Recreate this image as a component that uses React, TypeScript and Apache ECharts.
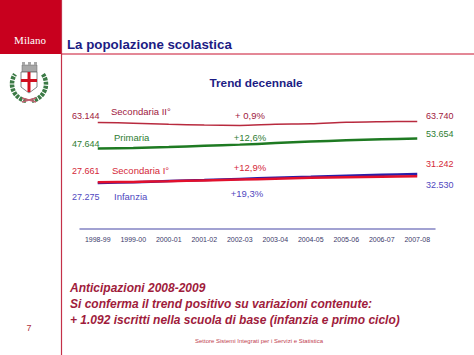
import React, { useEffect, useRef } from "react";
import * as echarts from "echarts";

const categories = ["1998-99", "1999-00", "2000-01", "2001-02", "2002-03", "2003-04", "2004-05", "2005-06", "2006-07", "2007-08"];
const secondariaII = [63144, 62700, 62100, 61600, 61400, 62100, 62300, 63200, 63550, 63740];
const primaria = [47644, 48000, 48600, 49300, 50000, 50900, 51800, 52600, 53200, 53654];
const secondariaI = [27661, 27900, 28300, 28800, 29300, 29800, 30300, 30700, 31000, 31242];
const infanzia = [27275, 27700, 28400, 29000, 29700, 30400, 31000, 31600, 32100, 32530];
const seriesNames = ["Secondaria II°", "Primaria", "Secondaria I°", "Infanzia"];
const percentLabels = ["+ 0,9%", "+12,6%", "+12,9%", "+19,3%"];

const fmt = (v: number) => Math.round(v).toString().replace(/\B(?=(\d{3})+(?!\d))/g, ".");

export default function App() {
  const ref = useRef<HTMLDivElement>(null);
  useEffect(() => {
    if (!ref.current) return;
    const chart = echarts.init(ref.current, null, { renderer: "svg" });
    const navy = "#1c1c84";
    const maroon = "#a01c3c";
    const colSecII = "#b82a3e";
    const colPrim = "#1e7a22";
    const colSecI = "#e2102c";
    const colInf = "#2a1ea8";
    const lblSecII = "#a02040";
    const lblPrim = "#2e7d32";
    const lblSecI = "#d42838";
    const lblInf = "#5048c0";
    const f = "Liberation Sans, Arial, sans-serif";
    const txt = (text: string, x: number, y: number, size: number, fill: string, opts: any = {}) => ({
      type: "text",
      x,
      y,
      style: {
        text,
        fill,
        fontSize: size,
        fontFamily: opts.family || f,
        fontWeight: opts.weight || "normal",
        fontStyle: opts.style || "normal",
        textAlign: opts.align || "left",
        textVerticalAlign: "middle",
      },
    });
    const lineOf = (name: string, data: number[], color: string, width: number, z: number) => ({
      name,
      type: "line",
      data,
      smooth: 0.3,
      symbol: "none",
      z,
      lineStyle: { color, width },
    });
    chart.setOption({
      animation: false,
      grid: { left: 80, width: 355, top: 94, height: 135 },
      xAxis: {
        type: "category",
        data: categories,
        boundaryGap: true,
        axisTick: { show: false },
        axisLine: { lineStyle: { color: "#8484c4", width: 1.5 } },
        axisLabel: { fontSize: 7, color: "#3a3a6a", margin: 7, fontFamily: f, interval: 0 },
      },
      yAxis: { type: "value", min: 0, max: 80000, show: false, splitLine: { show: false } },
      series: [
        lineOf(seriesNames[0], secondariaII, colSecII, 1.5, 2),
        lineOf(seriesNames[1], primaria, colPrim, 2.5, 2),
        lineOf(seriesNames[3], infanzia, colInf, 2.5, 2),
        lineOf(seriesNames[2], secondariaI, colSecI, 2.5, 3),
      ],
      graphic: [
        { type: "rect", shape: { x: 0, y: 0, width: 61, height: 54 }, style: { fill: "#c8001e" } },
        { type: "line", shape: { x1: 61, y1: 54, x2: 474, y2: 54 }, style: { stroke: "#c8102e", lineWidth: 1 } },
        { type: "line", shape: { x1: 61.5, y1: 0, x2: 61.5, y2: 355 }, style: { stroke: "#c43048", lineWidth: 1.2 } },
        txt("Milano", 30, 40, 11, "#ffffff", { align: "center", family: "Liberation Serif, serif" }),
        // coat of arms
        { type: "arc", shape: { cx: 29, cy: 84, r: 17, startAngle: (100 * Math.PI) / 180, endAngle: (215 * Math.PI) / 180 }, style: { stroke: "#3c7a46", lineWidth: 4.5, fill: "none", lineDash: [3, 1] } },
        { type: "arc", shape: { cx: 29, cy: 84, r: 17, startAngle: (-35 * Math.PI) / 180, endAngle: (80 * Math.PI) / 180 }, style: { stroke: "#3c7a46", lineWidth: 4.5, fill: "none", lineDash: [3, 1] } },
        { type: "rect", shape: { x: 22, y: 65, width: 15, height: 7 }, style: { fill: "#a8a8a8", stroke: "#666", lineWidth: 0.5 } },
        { type: "rect", shape: { x: 22, y: 62, width: 3, height: 3 }, style: { fill: "#a8a8a8" } },
        { type: "rect", shape: { x: 28, y: 62, width: 3, height: 3 }, style: { fill: "#a8a8a8" } },
        { type: "rect", shape: { x: 34, y: 62, width: 3, height: 3 }, style: { fill: "#a8a8a8" } },
        { type: "polygon", shape: { points: [[21, 72], [37, 72], [37, 87], [29, 93], [21, 87]] }, style: { fill: "#ffffff", stroke: "#666", lineWidth: 0.8 } },
        { type: "rect", shape: { x: 27.5, y: 72, width: 3, height: 20 }, style: { fill: "#d01020" } },
        { type: "rect", shape: { x: 21, y: 79, width: 16, height: 3 }, style: { fill: "#d01020" } },
        { type: "line", shape: { x1: 22, y1: 98, x2: 36, y2: 102 }, style: { stroke: "#c06070", lineWidth: 1.5 } },
        { type: "line", shape: { x1: 22, y1: 102, x2: 36, y2: 98 }, style: { stroke: "#c06070", lineWidth: 1.5 } },
        // titles
        txt("La popolazione scolastica", 67, 44, 13.3, navy, { weight: "bold" }),
        txt("Trend decennale", 256, 83, 11.8, navy, { weight: "bold", align: "center" }),
        // start values
        txt(fmt(secondariaII[0]), 72, 116, 9, lblSecII),
        txt(fmt(primaria[0]), 72, 144, 9, lblPrim),
        txt(fmt(secondariaI[0]), 72, 171, 9, lblSecI),
        txt(fmt(infanzia[0]), 72, 197, 9, lblInf),
        // end values
        txt(fmt(secondariaII[secondariaII.length - 1]), 426, 116, 9, lblSecII),
        txt(fmt(primaria[primaria.length - 1]), 426, 134, 9, lblPrim),
        txt(fmt(secondariaI[secondariaI.length - 1]), 426, 164, 9, lblSecI),
        txt(fmt(infanzia[infanzia.length - 1]), 426, 185, 9, lblInf),
        // series names
        txt(seriesNames[0], 111, 111, 9.5, lblSecII),
        txt(seriesNames[1], 114, 137, 9.5, lblPrim),
        txt(seriesNames[2], 112, 170, 9.5, lblSecI),
        txt(seriesNames[3], 114, 196, 9.5, lblInf),
        // percentages
        txt(percentLabels[0], 250, 115, 9.5, lblSecII, { align: "center" }),
        txt(percentLabels[1], 250, 137, 9.5, lblPrim, { align: "center" }),
        txt(percentLabels[2], 250, 167, 9.5, lblSecI, { align: "center" }),
        txt(percentLabels[3], 247, 193, 9.5, lblInf, { align: "center" }),
        // bottom text
        txt("Anticipazioni 2008-2009", 70, 288, 12, maroon, { weight: "bold", style: "italic" }),
        txt("Si conferma il trend positivo su variazioni contenute:", 70, 304, 12, maroon, { weight: "bold", style: "italic" }),
        txt("+ 1.092 iscritti nella scuola di base (infanzia e primo ciclo)", 70, 320, 12, maroon, { weight: "bold", style: "italic" }),
        txt("Settore Sistemi Integrati per i Servizi e Statistica", 259, 341, 6, "#c04050", { align: "center" }),
        txt("7", 29, 328, 9, "#b03040", { align: "center" }),
      ],
    });
    return () => chart.dispose();
  }, []);
  return <div ref={ref} style={{ position: "fixed", left: 0, top: 0, width: 474, height: 355, background: "#ffffff" }} />;
}
